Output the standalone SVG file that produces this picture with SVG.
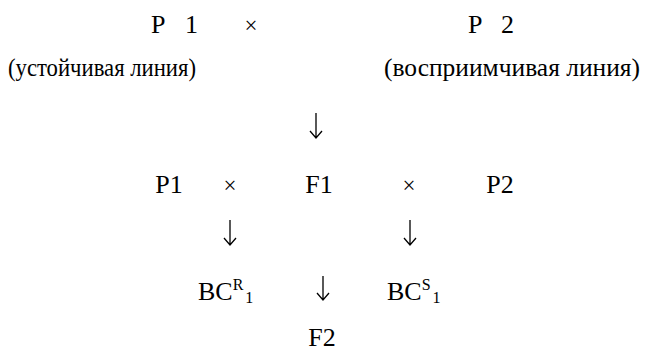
<svg xmlns="http://www.w3.org/2000/svg" width="666" height="351" viewBox="0 0 666 351" font-family="Liberation Serif, Times New Roman, serif">
  <style>
    text { font-family: Liberation Serif, Times New Roman, serif; font-size: 26px; fill: #000; }
    .c { text-anchor: middle; }
    .x { font-size: 23px; }
    .note { font-size: 25px; }
    .sm { font-size: 16px; }
    .arrow { fill: none; stroke: #000; stroke-width: 1.3; }
  </style>
  <rect width="666" height="351" fill="#fff"/>

  <!-- parental generation -->
  <g id="p1-top"><text x="151" y="33" textLength="47" lengthAdjust="spacing">P 1</text></g>
  <g id="cross-top"><text class="c x" x="251" y="33">×</text></g>
  <g id="p2-top"><text x="468" y="33" textLength="46" lengthAdjust="spacing">P 2</text></g>
  <g id="resistant"><text class="note" x="8" y="76" textLength="188" lengthAdjust="spacingAndGlyphs">(устойчивая линия)</text></g>
  <g id="susceptible"><text class="note" x="384" y="76" textLength="256" lengthAdjust="spacingAndGlyphs">(восприимчивая линия)</text></g>

  <!-- backcross row -->
  <g id="p1"><text class="c" x="169" y="193">P1</text></g>
  <g id="cross-left"><text class="c x" x="230" y="193">×</text></g>
  <g id="f1"><text class="c" x="319" y="193">F1</text></g>
  <g id="cross-right"><text class="c x" x="409" y="193">×</text></g>
  <g id="p2"><text class="c" x="500" y="193">P2</text></g>

  <!-- backcross progeny -->
  <g id="bc-r"><text x="198" y="300">BC<tspan class="sm" dy="-10">R</tspan><tspan class="sm" dx="2" dy="13">1</tspan></text></g>
  <g id="bc-s"><text x="387" y="300">BC<tspan class="sm" dy="-10">S</tspan><tspan class="sm" dx="2" dy="13">1</tspan></text></g>
  <g id="f2"><text class="c" x="322" y="346">F2</text></g>

  <!-- arrows -->
  <g id="connectors" class="arrow">
    <path d="M316 113V138M310 131L316 138L322 131"/>
    <path d="M230 220V245M224 238L230 245L236 238"/>
    <path d="M410 220V245M404 238L410 245L416 238"/>
    <path d="M323 276V300M317 293L323 300L329 293"/>
  </g>
</svg>
